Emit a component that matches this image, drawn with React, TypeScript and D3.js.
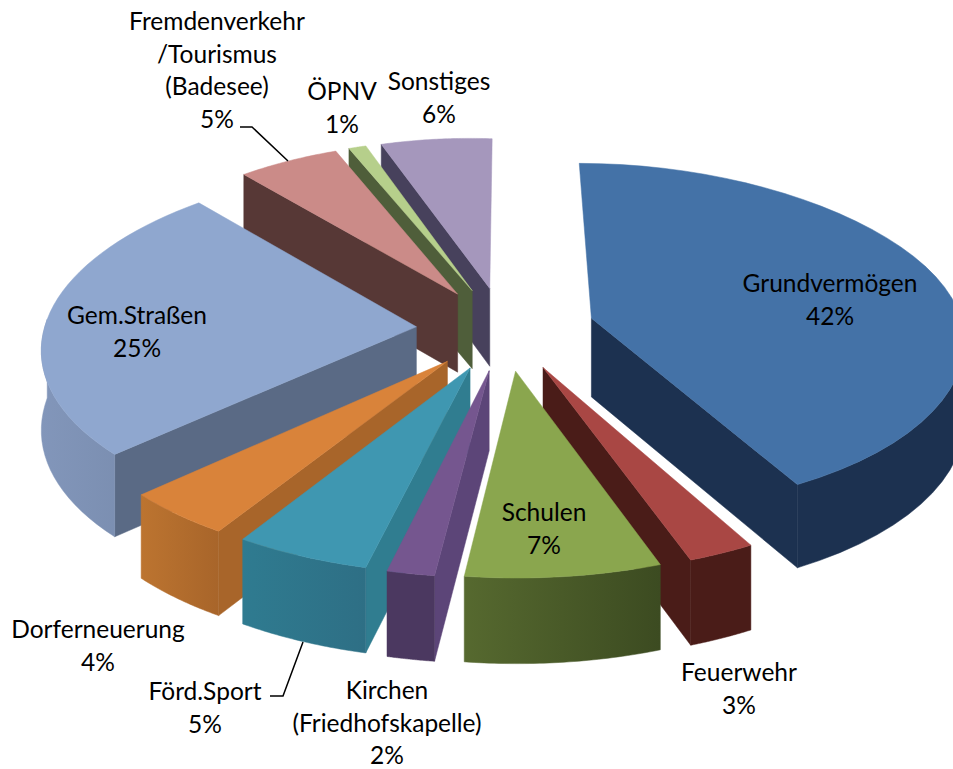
import React from "react";
import * as d3 from "d3";

const categories = ["Grundvermögen","Feuerwehr","Schulen","Kirchen (Friedhofskapelle)","Förd.Sport","Dorferneuerung","Gem.Straßen","Fremdenverkehr /Tourismus (Badesee)","ÖPNV","Sonstiges"];
const values = [42,2.55,7.4,1.8,5.15,4.2,25.1,5.1,0.9,5.8];
const topColors = ["#4472a7","#a94744","#8aa64e","#75568f","#3f97b1","#d9833a","#8fa7cf","#cb8b88","#b6cf8b","#a597bc"];
const radialColors = ["#1c3150","#4a1c18","#4d5f2b","#5c4578","#307d90","#a8652a","#5a6a85","#573836","#4f5e3a","#47415c"];
const outerFrom = ["#1c3150","#4a1c18","#56692f","#4b3860","#2f7b90","#bc7430","#8296ba","#573836","#4f5e3a","#47415c"];
const outerTo = ["#1c3150","#4a1c18","#3c4b21","#4b3860","#2e6f85","#a8652a","#7487a8","#573836","#4f5e3a","#47415c"];

const labelLines = [
  ["Grundvermögen","42%"],["Feuerwehr","3%"],["Schulen","7%"],["Kirchen","(Friedhofskapelle)","2%"],
  ["Förd.Sport","5%"],["Dorferneuerung","4%"],["Gem.Straßen","25%"],
  ["Fremdenverkehr","/Tourismus","(Badesee)","5%"],["ÖPNV","1%"],["Sonstiges","6%"],
];
const labelCenters = [[830,284],[739,673],[544,513],[387,691],[205,692],[98,630],[137,316],[217,22],[342,92],[439,82]];
const leaders = [
  [[240,127],[252,127],[288,161]],
  [[270,696],[283,696],[303,642]],
];

const W = 953, H = 769;
const cx = 505.5, cy = 328.5, Rx = 372, Ry = 174, perspY = 0.11, perspBack = 0.05, tilt = 8, depth = 79, explode = 0.24;

function project(X: number, Y: number, z: number): [number, number] {
  const back = Math.max(Y, 0);
  const s = 1 / (1 + perspY * Y);
  const sx = 1 / (1 + perspY * Y + perspBack * back * back);
  const lift = tilt * back * Math.max(-X, 0);
  return [cx + Rx * X * sx, cy - Ry * Y * s - lift + z * depth * Math.pow(s, 0.55)];
}

const arcs = d3.pie<number>().sort(null).value(d => d)(values);
const line = d3.line();

export default function App() {
  const slices = arcs.map((a, i) => {
    const mid = (a.startAngle + a.endAngle) / 2;
    const ox = explode * Math.sin(mid), oy = explode * Math.cos(mid);
    const angles = d3.range(0, 41).map(k => a.startAngle + (a.endAngle - a.startAngle) * k / 40);
    const rim = angles.map(t => [ox + Math.sin(t), oy + Math.cos(t)]);
    const rimTop = rim.map(p => project(p[0], p[1], 0));
    const rimBot = rim.map(p => project(p[0], p[1], 1));
    const apexTop = project(ox, oy, 0), apexBot = project(ox, oy, 1);
    const walls: { d: string; fill: string }[] = [];
    if (Math.sin(a.startAngle) < -0.01)
      walls.push({ d: line([apexTop, rimTop[0], rimBot[0], apexBot])! + "Z", fill: radialColors[i] });
    if (Math.sin(a.endAngle) > 0.01)
      walls.push({ d: line([apexTop, rimTop[40], rimBot[40], apexBot])! + "Z", fill: radialColors[i] });
    const front = d3.range(0, 41).filter(k => Math.cos(angles[k]) < 0.05);
    if (front.length > 1) {
      const t = front.map(k => rimTop[k]);
      const b = front.map(k => rimBot[k]).reverse();
      walls.push({ d: line([...t, ...b])! + "Z", fill: `url(#outer${i})` });
    }
    const top = line([apexTop, ...rimTop])! + "Z";
    const xs = [...rimBot, ...rimTop].map(p => p[0]);
    return { i, oy: oy + Math.cos(mid) * 0.5, walls, top, x0: d3.min(xs)!, x1: d3.max(xs)! };
  });
  const order = [...slices].sort((p, q) => q.oy - p.oy);

  return (
    <svg width={W} height={H} viewBox={`0 0 ${W} ${H}`} style={{ position: "absolute", left: 0, top: 0, background: "#fff" }}>
      <defs>
        {slices.map(s => (
          <linearGradient key={s.i} id={`outer${s.i}`} gradientUnits="userSpaceOnUse" x1={s.x0} x2={s.x1} y1={0} y2={0}>
            <stop offset="0" stopColor={outerFrom[s.i]} />
            <stop offset="1" stopColor={outerTo[s.i]} />
          </linearGradient>
        ))}
      </defs>
      {order.map(s => (
        <g key={s.i}>
          {s.walls.map((w, k) => <path key={k} d={w.d} fill={w.fill} stroke={w.fill} strokeWidth={0.5} />)}
          <path d={s.top} fill={topColors[s.i]} stroke={topColors[s.i]} strokeWidth={0.5} />
        </g>
      ))}
      {leaders.map((l, i) => (
        <path key={i} d={line(l as [number, number][])!} fill="none" stroke="#000" strokeWidth={1.5} />
      ))}
      {labelLines.map((ls, i) => (
        <text key={i} fontFamily="Lato" fontSize={24.5} fill="#000" textAnchor="middle">
          {ls.map((t, k) => (
            <tspan key={k} x={labelCenters[i][0]} y={labelCenters[i][1] + k * 32.5 + 8}>{t}</tspan>
          ))}
        </text>
      ))}
    </svg>
  );
}
